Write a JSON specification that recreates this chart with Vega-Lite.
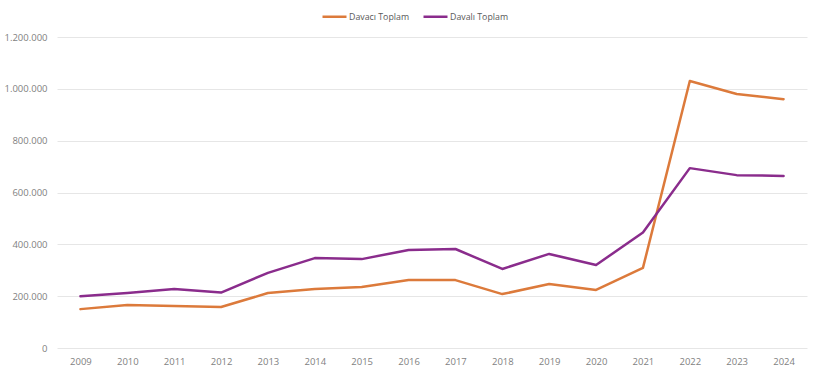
{
  "$schema": "https://vega.github.io/schema/vega-lite/v6.json",
  "autosize": {"type": "none"},
  "width": 750,
  "height": 311,
  "padding": {"left": 57, "top": 37, "right": 13, "bottom": 27},
  "background": "white",
  "config": {
    "locale": {"number": {"decimal": ",", "thousands": ".", "grouping": [3], "currency": ["", " ₺"]}},
    "font": "Open Sans",
    "view": {"stroke": null}
  },
  "data": {
    "values": [
      {"yil": "2009", "seri": "Davacı Toplam", "deger": 150000},
      {"yil": "2010", "seri": "Davacı Toplam", "deger": 166000},
      {"yil": "2011", "seri": "Davacı Toplam", "deger": 162000},
      {"yil": "2012", "seri": "Davacı Toplam", "deger": 158000},
      {"yil": "2013", "seri": "Davacı Toplam", "deger": 212000},
      {"yil": "2014", "seri": "Davacı Toplam", "deger": 228000},
      {"yil": "2015", "seri": "Davacı Toplam", "deger": 235000},
      {"yil": "2016", "seri": "Davacı Toplam", "deger": 262000},
      {"yil": "2017", "seri": "Davacı Toplam", "deger": 262000},
      {"yil": "2018", "seri": "Davacı Toplam", "deger": 208000},
      {"yil": "2019", "seri": "Davacı Toplam", "deger": 247000},
      {"yil": "2020", "seri": "Davacı Toplam", "deger": 224000},
      {"yil": "2021", "seri": "Davacı Toplam", "deger": 309000},
      {"yil": "2022", "seri": "Davacı Toplam", "deger": 1030000},
      {"yil": "2023", "seri": "Davacı Toplam", "deger": 980000},
      {"yil": "2024", "seri": "Davacı Toplam", "deger": 960000},
      {"yil": "2009", "seri": "Davalı Toplam", "deger": 200000},
      {"yil": "2010", "seri": "Davalı Toplam", "deger": 212000},
      {"yil": "2011", "seri": "Davalı Toplam", "deger": 228000},
      {"yil": "2012", "seri": "Davalı Toplam", "deger": 214000},
      {"yil": "2013", "seri": "Davalı Toplam", "deger": 290000},
      {"yil": "2014", "seri": "Davalı Toplam", "deger": 347000},
      {"yil": "2015", "seri": "Davalı Toplam", "deger": 343000},
      {"yil": "2016", "seri": "Davalı Toplam", "deger": 378000},
      {"yil": "2017", "seri": "Davalı Toplam", "deger": 382000},
      {"yil": "2018", "seri": "Davalı Toplam", "deger": 305000},
      {"yil": "2019", "seri": "Davalı Toplam", "deger": 363000},
      {"yil": "2020", "seri": "Davalı Toplam", "deger": 320000},
      {"yil": "2021", "seri": "Davalı Toplam", "deger": 446000},
      {"yil": "2022", "seri": "Davalı Toplam", "deger": 694000},
      {"yil": "2023", "seri": "Davalı Toplam", "deger": 667000},
      {"yil": "2024", "seri": "Davalı Toplam", "deger": 664000}
    ]
  },
  "mark": {"type": "line", "strokeWidth": 2.5, "strokeCap": "round", "strokeJoin": "round"},
  "encoding": {
    "x": {
      "field": "yil", "type": "ordinal",
      "scale": {"type": "point", "padding": 0.5},
      "axis": {"title": null, "labelAngle": 0, "ticks": false, "domain": false, "labelColor": "#7f7f7f", "labelFontSize": 9.5, "labelPadding": 8, "grid": false}
    },
    "y": {
      "field": "deger", "type": "quantitative",
      "scale": {"domain": [0, 1200000]},
      "axis": {"title": null, "values": [0, 200000, 400000, 600000, 800000, 1000000, 1200000], "format": ",.0f", "ticks": false, "domain": false, "labelColor": "#7f7f7f", "labelFontSize": 9.5, "labelPadding": 10, "gridColor": "#e6e6e6", "gridWidth": 1}
    },
    "color": {
      "field": "seri", "type": "nominal",
      "scale": {"domain": ["Davacı Toplam", "Davalı Toplam"], "range": ["#DC7A3B", "#8A2C8C"]},
      "legend": {"title": null, "orient": "none", "direction": "horizontal", "legendX": 264, "legendY": -34, "symbolType": "stroke", "symbolSize": 576, "symbolStrokeWidth": 2.5, "labelColor": "#595959", "labelFontSize": 8.8, "columnPadding": 8, "labelOffset": 1}
    }
  }
}
